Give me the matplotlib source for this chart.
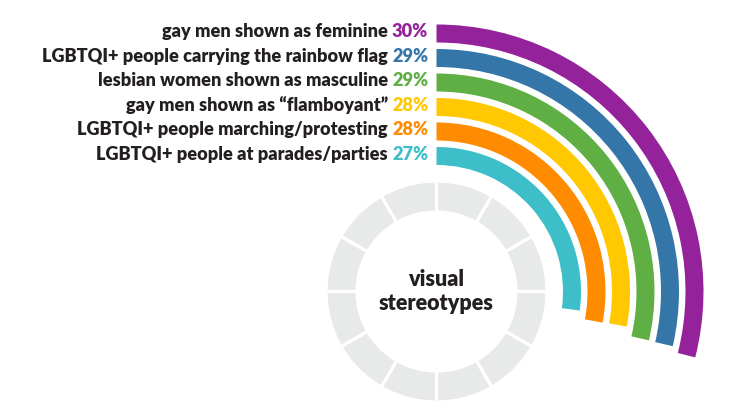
import numpy as np
import matplotlib
matplotlib.use("Agg")
import matplotlib.pyplot as plt

# ---- data ----
categories = [
    "gay men shown as feminine",
    "LGBTQI+ people carrying the rainbow flag",
    "lesbian women shown as masculine",
    "gay men shown as \u201cflamboyant\u201d",
    "LGBTQI+ people marching/protesting",
    "LGBTQI+ people at parades/parties",
]
pct_labels = ["30%", "29%", "29%", "28%", "28%", "27%"]
values = [28.97, 28.62, 28.6, 27.9, 27.95, 27.1]   # arc lengths as drawn (percent of full circle)
colors = ["#93229B", "#3476A8", "#5FAF45", "#FFC800", "#FF8C00", "#3EBEC9"]
center_label = "visual\nstereotypes"
ring_segments = 12

W, H, DPI = 754, 411, 100
plt.rcParams['font.family'] = ['Lato', 'DejaVu Sans']

fig = plt.figure(figsize=(W / DPI, H / DPI), dpi=DPI)
cx, cy = 436.5, 291.5      # centre in pixels (from top-left)
R = 270.0                  # axes radius in pixels (= rmax)
ax = fig.add_axes([(cx - R) / W, (H - cy - R) / H, 2 * R / W, 2 * R / H],
                  projection='polar')
ax.set_theta_zero_location('N')
ax.set_theta_direction(-1)
ax.set_rlim(0, R)
ax.set_axis_off()
ax.patch.set_visible(False)

# grey segmented ring
seg = 2 * np.pi / ring_segments
ring_theta = np.arange(ring_segments) * seg + seg / 2
ax.bar(ring_theta, np.full(ring_segments, 31.0), width=seg, bottom=79.5,
       color="#E8E9E9", edgecolor="white", linewidth=2.3, clip_on=False)

# radial bars
n = len(values)
bar_w = 18.0
step = 24.5
r_centers = 258.0 - step * np.arange(n)
ax.barh(r_centers, np.deg2rad(np.array(values) * 3.6), left=0, height=bar_w,
        color=colors, linewidth=0, clip_on=False)

# labels
fig.canvas.draw()
renderer = fig.canvas.get_renderer()
fs = 13.05
wt = 'heavy'
for r, cat, pl, col in zip(r_centers, categories, pct_labels, colors):
    t = ax.annotate(pl, xy=(0, r), xytext=(-6, -2.8), textcoords='offset points',
                    ha='right', va='baseline', fontsize=fs, fontweight=wt,
                    color=col, annotation_clip=False)
    w = t.get_window_extent(renderer).width * 72 / DPI
    ax.annotate(cat + " ", xy=(0, r), xytext=(-6 - w, -2.8), textcoords='offset points',
                ha='right', va='baseline', fontsize=fs, fontweight=wt,
                color="#231F20", annotation_clip=False)

ax.text(0, 0, center_label, ha='center', va='center', fontsize=15.5,
        fontweight=wt, color="#231F20", linespacing=1.2)

fig.savefig("out.png", dpi=DPI)
